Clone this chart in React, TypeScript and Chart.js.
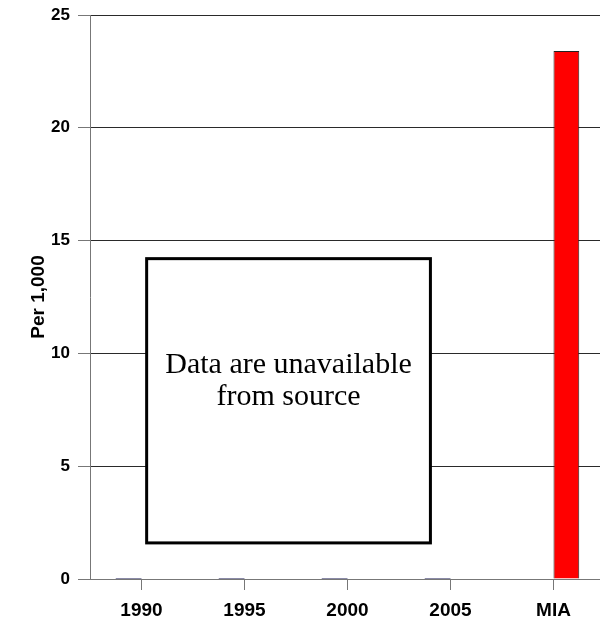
import React, { useEffect, useRef } from "react";
import { Chart, registerables } from "chart.js";

Chart.register(...registerables);

const categories = ["1990", "1995", "2000", "2005", "MIA"];
const countryValues = [0, 0, 0, 0, null];
const miaValues = [null, null, null, null, 23.4];
const yTicks = [0, 5, 10, 15, 20, 25];
const yTitle = "Per 1,000";
const noteLines = ["Data are unavailable", "from source"];
const noteTop = 14.2;
const noteBottom = 1.6;

const SANS = '"Liberation Sans", Arial, sans-serif';
const SERIF = '"Liberation Serif", "Times New Roman", serif';

const notePlugin = {
  id: "noteBox",
  afterDatasetsDraw(chart: any) {
    const { ctx, scales } = chart;
    const x = scales.x;
    const y = scales.y;
    const cw = x.getPixelForValue(1) - x.getPixelForValue(0);
    const left = x.getPixelForValue(0) + cw * 0.05;
    const right = x.getPixelForValue(3) - cw * 0.195;
    const top = y.getPixelForValue(noteTop);
    const bottom = y.getPixelForValue(noteBottom);
    ctx.save();
    ctx.fillStyle = "#ffffff";
    ctx.fillRect(left, top, right - left, bottom - top);
    ctx.strokeStyle = "#000000";
    ctx.lineWidth = 3;
    ctx.strokeRect(left, top, right - left, bottom - top);
    ctx.fillStyle = "#000000";
    ctx.font = "30px " + SERIF;
    ctx.textAlign = "center";
    ctx.textBaseline = "middle";
    const cx = (left + right) / 2;
    const h = bottom - top;
    noteLines.forEach((line, i) => {
      ctx.fillText(line, cx, top + h * 0.375 + i * 32);
    });
    ctx.restore();
  },
};

export default function App() {
  const ref = useRef<HTMLCanvasElement | null>(null);
  useEffect(() => {
    if (!ref.current) return;
    const chart = new Chart(ref.current, {
      type: "bar",
      data: {
        labels: categories,
        datasets: [
          {
            label: "Country",
            data: countryValues,
            backgroundColor: "#14144f",
            borderWidth: 0,
            minBarLength: 1,
            barPercentage: 1,
            categoryPercentage: 0.5,
          },
          {
            label: "MIA",
            data: miaValues,
            backgroundColor: "#ff0000",
            borderColor: "#222222",
            borderWidth: 1,
            barPercentage: 1,
            categoryPercentage: 0.5,
          },
        ],
      },
      options: {
        responsive: false,
        animation: false,
        layout: { padding: { top: 15, right: 8, left: 0, bottom: 0 } },
        plugins: {
          legend: { display: false },
          tooltip: { enabled: false },
          title: { display: false },
        },
        scales: {
          x: {
            offset: true,
            grid: {
              display: true,
              drawOnChartArea: false,
              drawTicks: true,
              tickLength: 11,
              offset: false,
              color: "#777777",
            },
            border: { display: true, color: "#777777", width: 1 },
            ticks: {
              color: "#000000",
              font: { family: SANS, size: 19, weight: "bold" },
              padding: 9,
              maxRotation: 0,
              autoSkip: false,
            },
            afterFit: (s: any) => {
              s.height = 40;
              s.paddingLeft = 0;
              s.paddingRight = 0;
            },
          },
          y: {
            min: 0,
            max: 25,
            afterBuildTicks: (s: any) => {
              s.ticks = yTicks.map((v) => ({ value: v }));
            },
            grid: {
              color: "#2a2a2a",
              tickColor: "#777777",
              tickLength: 12,
              drawTicks: true,
            },
            border: { display: true, color: "#777777", width: 1 },
            ticks: {
              color: "#000000",
              font: { family: SANS, size: 17, weight: "bold" },
              padding: 8,
            },
            title: {
              display: true,
              text: yTitle,
              color: "#000000",
              font: { family: SANS, size: 19, weight: "bold" },
              padding: { top: 27, bottom: 0 },
            },
            afterFit: (s: any) => {
              s.width = 90;
              s.paddingTop = 0;
              s.paddingBottom = 0;
            },
          },
        },
      },
      plugins: [notePlugin],
    });
    return () => chart.destroy();
  }, []);
  return (
    <div
      style={{
        position: "fixed",
        left: 0,
        top: 0,
        width: 600,
        height: 619,
        overflow: "hidden",
        background: "#ffffff",
      }}
    >
      <canvas ref={ref} width={613} height={619} style={{ display: "block" }} />
    </div>
  );
}
